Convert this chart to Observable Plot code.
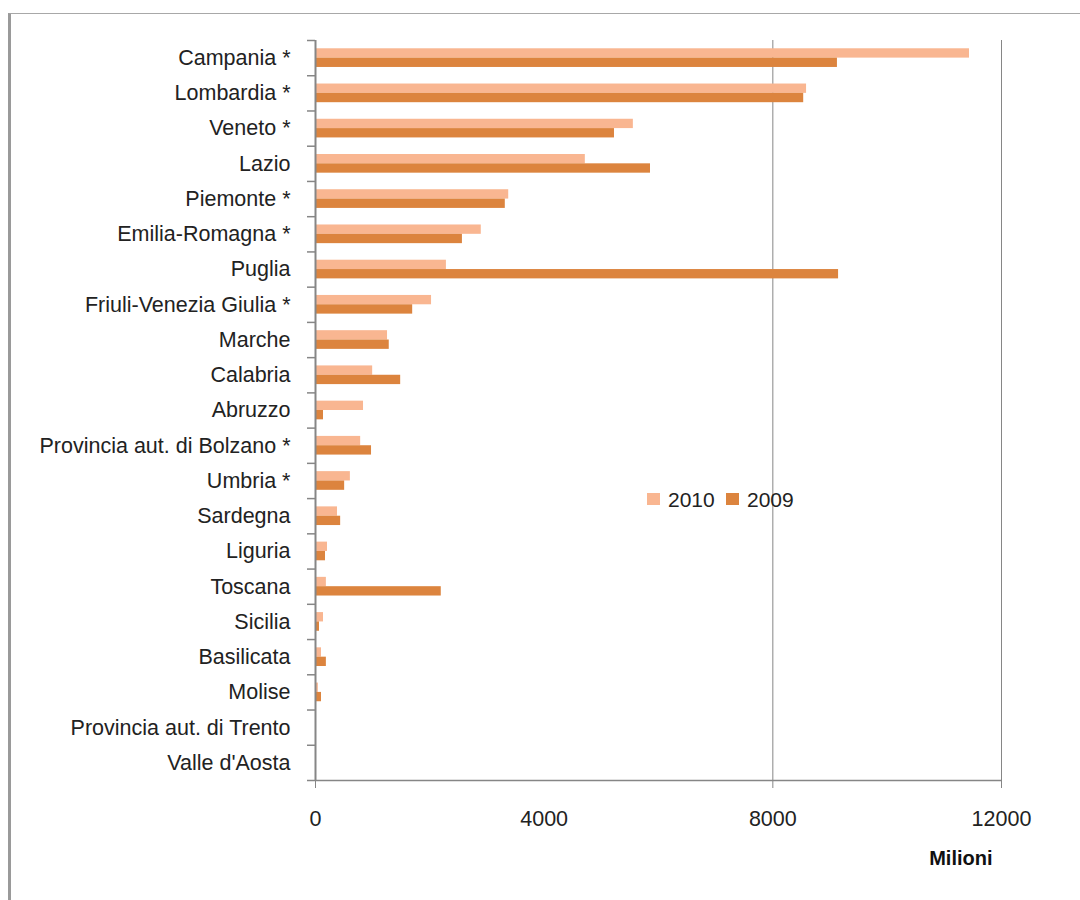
<!DOCTYPE html>
<html>
<head>
<meta charset="utf-8">
<script src="https://cdn.jsdelivr.net/npm/d3@7"></script>
<script src="https://cdn.jsdelivr.net/npm/@observablehq/plot@0.6"></script>
<style>
  body { margin: 0; background: #fff; }
  #wrap { position: relative; width: 1080px; height: 900px; overflow: hidden; font-family: "Liberation Sans", Arial, sans-serif; }
  #frame { position: absolute; left: 8px; top: 13px; width: 1100px; height: 920px; border-left: 3px solid #9a9a9a; border-top: 1.5px solid #a8a8a8; pointer-events: none; }
  .sw { position: absolute; width: 13px; height: 12px; }
  .lt { position: absolute; font-size: 21px; line-height: 21px; color: #222; white-space: nowrap; }
</style>
</head>
<body>
<div id="wrap">
  <div id="chart"></div>
  <div id="frame"></div>
  <div id="legend"></div>
</div>
<script>
const regions = [
  "Campania *", "Lombardia *", "Veneto *", "Lazio", "Piemonte *",
  "Emilia-Romagna *", "Puglia", "Friuli-Venezia Giulia *", "Marche", "Calabria",
  "Abruzzo", "Provincia aut. di Bolzano *", "Umbria *", "Sardegna", "Liguria",
  "Toscana", "Sicilia", "Basilicata", "Molise", "Provincia aut. di Trento", "Valle d'Aosta"
];
const values2010 = [11440, 8590, 5560, 4720, 3380, 2900, 2290, 2030, 1260, 1000, 840, 790, 610, 385, 210, 190, 140, 105, 50, 0, 0];
const values2009 = [9130, 8540, 5230, 5860, 3320, 2570, 9150, 1700, 1290, 1490, 140, 980, 510, 440, 175, 2200, 70, 190, 105, 0, 0];
const seriesNames = ["2010", "2009"];
const seriesColors = ["#F9B691", "#DC843E"];
const xTickValues = [0, 4000, 8000, 12000];
const gridValues = [8000, 12000];
const axisLabel = "Milioni";

const gray = "#868686";
const barH = 0.265;

const rows10 = regions.map((r, i) => ({region: r, i, value: values2010[i]}));
const rows09 = regions.map((r, i) => ({region: r, i, value: values2009[i]}));

const plot = Plot.plot({
  width: 1080,
  height: 900,
  marginLeft: 315,
  marginRight: 79,
  marginTop: 40,
  marginBottom: 120,
  style: {fontFamily: "'Liberation Sans', Arial, sans-serif", fontSize: "21.5px", color: "#222", background: "transparent"},
  x: {domain: [0, 12000], label: null},
  y: {domain: [-0.5, regions.length - 0.5], reverse: true, label: null},
  marks: [
    Plot.ruleX(gridValues, {stroke: gray, strokeWidth: 1}),
    Plot.rectX(rows10, {x: "value", y1: d => d.i - barH, y2: d => d.i, fill: seriesColors[0]}),
    Plot.rectX(rows09, {x: "value", y1: d => d.i, y2: d => d.i + barH, fill: seriesColors[1]}),
    Plot.ruleX([0], {stroke: gray, strokeWidth: 2}),
    Plot.ruleY([regions.length - 0.5], {stroke: gray, strokeWidth: 1.5}),
    Plot.axisY({ticks: d3.range(regions.length + 1).map(i => i - 0.5), tickSize: 8, tickFormat: () => "", stroke: gray, strokeWidth: 1.5}),
    Plot.axisY({ticks: d3.range(regions.length), tickSize: 0, tickPadding: 25, tickFormat: i => regions[i]}),
    Plot.axisX({ticks: [0, ...gridValues], tickSize: 8, tickFormat: () => "", stroke: gray, strokeWidth: 1}),
    Plot.axisX({ticks: xTickValues, tickSize: 0, tickPadding: 30, tickFormat: d => String(d)}),
    Plot.text([axisLabel], {text: d => d, frameAnchor: "bottom-right", dx: -9, dy: 84, textAnchor: "end", fontWeight: "bold", fontSize: 20, fill: "#111"})
  ]
});
document.getElementById("chart").appendChild(plot);

// legend inside plot area
const legend = document.getElementById("legend");
const legendX = [647, 726];
seriesNames.forEach((name, k) => {
  const sw = document.createElement("div");
  sw.className = "sw";
  sw.style.left = legendX[k] + "px";
  sw.style.top = "493px";
  sw.style.background = seriesColors[k];
  legend.appendChild(sw);
  const t = document.createElement("div");
  t.className = "lt";
  t.style.left = (legendX[k] + 21) + "px";
  t.style.top = "489px";
  t.textContent = name;
  legend.appendChild(t);
});
</script>
</body>
</html>
